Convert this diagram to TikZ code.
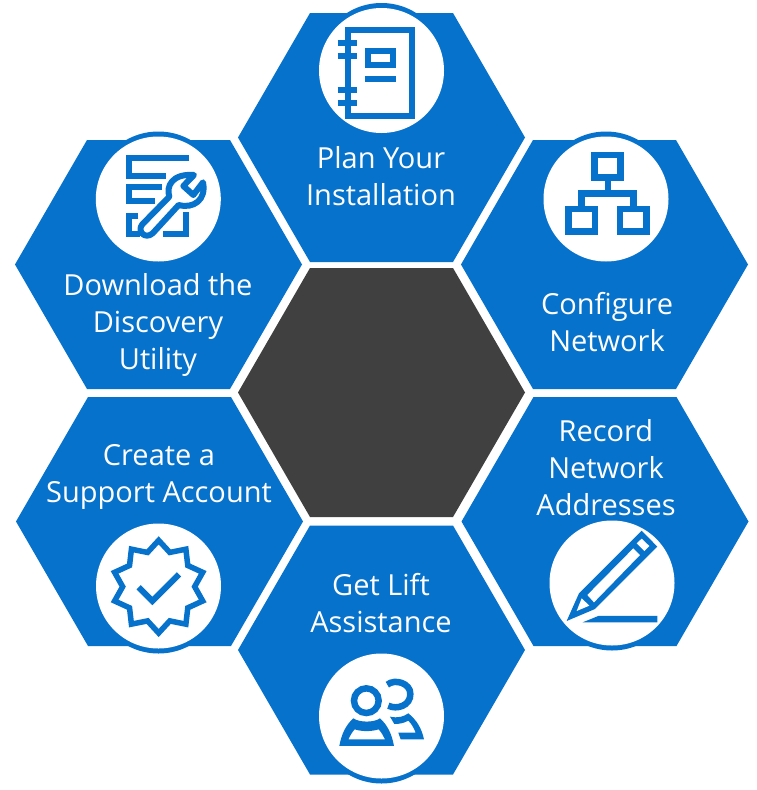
\documentclass[tikz,border=0pt]{standalone}
\usepackage{fontspec}
\setmainfont{Open Sans}
\definecolor{cellblue}{HTML}{0672CB}
\definecolor{cellgrey}{HTML}{404040}
\tikzset{
	celltext/.style={text=white, align=center, font=\fontsize{29}{37}\selectfont},
	icon/.style={draw=cellblue, line width=#1, line join=miter, line cap=butt},
	icon/.default=6pt
}
\newcommand{\hexcell}[3] {
	\fill[#3] (#1-71.5,#2-124.5) -- (#1+71.5,#2-124.5) -- (#1+143.5,#2) -- (#1+71.5,#2+124.5) -- (#1-71.5,#2+124.5) -- (#1-143.5,#2) -- cycle;
}
\newcommand{\iconcircle}[3] {
	\fill[cellblue] (#1,#2+#3) circle [radius=65];
	\fill[white] (#1,#2) circle [radius=62.5];
}
\begin{document}
\begin{tikzpicture}[x=1pt, y=-1pt]
		\useasboundingbox (0,0) rectangle (757,790);
		\fill[white] (0,0) rectangle (757,790);

		% Cells
		\hexcell{381.5}{392.5}{cellgrey}
		\hexcell{381.5}{137.5}{cellblue}
		\hexcell{158.5}{264.5}{cellblue}
		\hexcell{604.5}{264.5}{cellblue}
		\hexcell{159.5}{521.5}{cellblue}
		\hexcell{605}{521.5}{cellblue}
		\hexcell{381.5}{650}{cellblue}

		% Circles behind the icons
		\iconcircle{381.5}{70.5}{-2.5}
		\iconcircle{158.3}{199}{-2.5}
		\iconcircle{606}{199}{-2.5}
		\iconcircle{158.5}{586}{2.5}
		\iconcircle{612}{583}{2.5}
		\iconcircle{381.5}{716}{2.5}

		% Labels
		\node[celltext] (plan) at (381,176) {Plan Your\\Installation};
		\node[celltext] (download) at (158,325) {Download the\\Discovery\\Utility};
		\node[celltext] (configure) at (607,322) {Configure\\Network};
		\node[celltext] (account) at (159,477) {Create a\\Support Account};
		\node[celltext] (record) at (606,468) {Record\\Network\\Addresses};
		\node[celltext] (lift) at (381,603) {Get Lift\\Assistance};

		% Notebook
		\begin{scope}[shift={(300,0)}, x=0.3333pt, y=-0.3333pt]
			\draw[icon] (145,89) rectangle (336,348);
			\foreach \ringy in {130,167,271,308}
				\draw[icon] (113,\ringy) -- (172,\ringy);
			\draw[icon] (204,153) rectangle (278,196);
			\draw[icon] (195,236) -- (288,236);
		\end{scope}

		% Document with wrench
		\begin{scope}[shift={(80,125)}, x=0.3333pt, y=-0.3333pt]
			\draw[icon] (328,99) -- (147,99) -- (147,153) -- (258,153);
			\draw[icon] (245,187) -- (147,187) -- (147,228) -- (225,228);
			\draw[icon] (175,274) -- (147,274) -- (147,326) -- (180,326);
			\draw[icon] (250,326) -- (319,326) -- (319,262);
			\draw[icon=6pt, fill=white, line join=round] (187,298)
				-- (268,215) .. controls (258,185) and (275,145) .. (342,150)
				-- (310,183) -- (340,210) -- (369,172)
				.. controls (380,225) and (340,252) .. (296,240)
				-- (218,325) .. controls (195,345) and (170,318) .. (187,298) -- cycle;
		\end{scope}

		% Network
		\begin{scope}[shift={(530,125)}, x=0.3333pt, y=-0.3333pt]
			\draw[icon=6.5pt] (193,90) rectangle (272,158);
			\draw[icon=6.5pt] (234,158) -- (234,205);
			\draw[icon=6.5pt] (155,242) -- (155,205) -- (310,205) -- (310,242);
			\draw[icon=6.5pt] (115,252) rectangle (195,320);
			\draw[icon=6.5pt] (270,252) rectangle (350,320);
		\end{scope}

		% Badge
		\begin{scope}[shift={(80,515)}, x=0.3333pt, y=-0.3333pt]
			\draw[icon=5.5pt, shift={(236,215)}]
				(90:139) -- (72:108) -- (54:139) -- (36:108) -- (18:139) -- (0:108)
				-- (-18:139) -- (-36:108) -- (-54:139) -- (-72:108) -- (-90:139)
				-- (-108:108) -- (-126:139) -- (-144:108) -- (-162:139) -- (180:108)
				-- (162:139) -- (144:108) -- (126:139) -- (108:108) -- cycle;
			\draw[icon=6pt] (176,217) -- (217,258) -- (297,178);
		\end{scope}

		% Pencil
		\begin{scope}[shift={(530,515)}, x=0.3333pt, y=-0.3333pt]
			\fill[cellblue] (110,318) -- (147,235) -- (335,47) -- (382,95) -- (195,282) -- cycle;
			\fill[white] (320,85) -- (335,71) -- (358,93) -- (343,108) -- cycle;
			\fill[white] (172,240) -- (310,100) -- (330,120) -- (192,262) -- cycle;
			\fill[white] (140,288) -- (155,250) -- (178,272) -- cycle;
			\fill[cellblue] (158,322) -- (205,303) -- (382,303) -- (382,322) -- cycle;
		\end{scope}

		% People
		\begin{scope}[shift={(300,650)}, x=0.3333pt, y=-0.3333pt]
			\draw[icon=6.5pt] (199,152) circle [radius=37];
			\draw[icon=6.5pt] (262,104) .. controls (285,85) and (332,100) .. (331,132) .. controls (332,167) and (290,180) .. (265,167);
			\fill[cellblue, even odd rule] (118,288) .. controls (125,250) and (138,225) .. (160,205)
				.. controls (178,218) and (222,218) .. (240,205)
				.. controls (262,225) and (275,250) .. (282,288) -- cycle
				(145,268) .. controls (150,258) and (155,248) .. (164,238)
				.. controls (185,245) and (215,245) .. (236,238)
				.. controls (245,248) and (250,258) .. (255,268) -- cycle;
			\fill[cellblue] (270,200) .. controls (295,205) and (310,200) .. (325,190)
				.. controls (350,210) and (365,235) .. (372,268) -- (302,268) -- (295,248) -- (347,248)
				.. controls (342,235) and (335,222) .. (325,212) .. controls (310,220) and (298,222) .. (283,222) -- cycle;
		\end{scope}

	\end{tikzpicture}
\end{document}
